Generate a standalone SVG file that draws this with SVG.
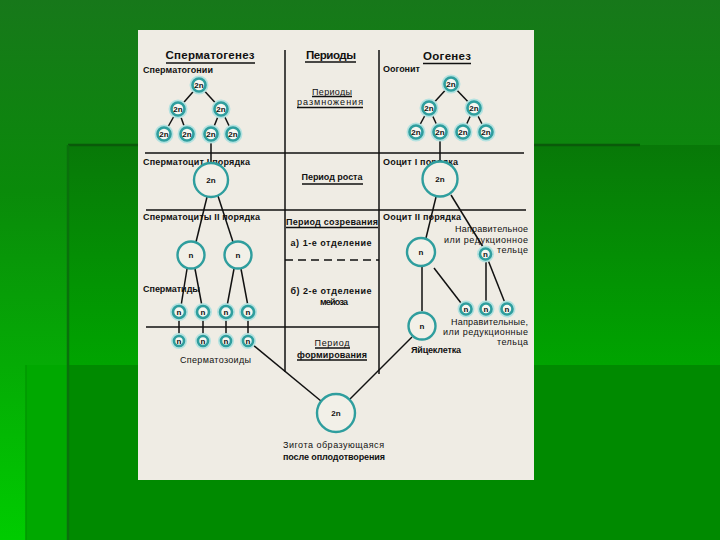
<svg xmlns="http://www.w3.org/2000/svg" width="720" height="540" viewBox="0 0 720 540">
<defs>
<linearGradient id="bg" x1="0" y1="0" x2="0" y2="1">
<stop offset="0" stop-color="#17781a"/>
<stop offset="0.35" stop-color="#0a8a0a"/>
<stop offset="1" stop-color="#00cc00"/>
</linearGradient>
<linearGradient id="bgB" x1="0" y1="0" x2="0" y2="1">
<stop offset="0" stop-color="#087808"/>
<stop offset="1" stop-color="#00a400"/>
</linearGradient>
<style>
.t{font-family:"Liberation Sans",Arial,sans-serif;font-size:9px;fill:#111;font-weight:bold}
.n{font-weight:normal}
.h{font-size:11.5px}
.c{text-anchor:middle}
.r{text-anchor:end}
.ci{font-family:"Liberation Sans",Arial,sans-serif;font-size:8px;font-weight:bold;fill:#111;text-anchor:middle}
.cell{fill:#f6f6f0;stroke:#2f9e9e;stroke-width:2.6}
.halo{fill:none;stroke:#b4e2e0;stroke-width:5}
.big{fill:#f2f0e8;stroke:#2f9e9e;stroke-width:2.4}
.ln{stroke:#111;stroke-width:1.5;fill:none}
.ul{stroke:#111;stroke-width:1.3}
</style>
</defs>
<g id="background">
<rect width="720" height="540" fill="url(#bg)"/>
<rect x="68" y="145" width="652" height="220" fill="url(#bgB)"/>
<rect x="26" y="365" width="42" height="175" fill="#00a800"/>
<rect x="68" y="365" width="652" height="175" fill="#008a00"/>
<line x1="68" y1="145" x2="640" y2="145" stroke="#0a5a0a" stroke-width="2.5"/>
<line x1="68" y1="145" x2="68" y2="540" stroke="#0a700c" stroke-width="2.5"/>
<line x1="26" y1="365" x2="26" y2="540" stroke="#009800" stroke-width="1.5"/>
</g>
<rect id="panel" x="138" y="30" width="396" height="450" fill="#efece4"/>
<g id="connectors">
<line class="ln" x1="285" y1="50" x2="285" y2="372"/>
<line class="ln" x1="379" y1="50" x2="379" y2="374"/>
<line class="ln" x1="145" y1="153" x2="524" y2="153"/>
<line class="ln" x1="146" y1="210" x2="526" y2="210"/>
<line class="ln" x1="146" y1="327" x2="379" y2="327"/>
<line class="ln" x1="285" y1="260" x2="379" y2="260" stroke-dasharray="8,5" stroke-width="2"/>
<line class="ln" x1="199" y1="85" x2="178" y2="109"/>
<line class="ln" x1="199" y1="85" x2="221" y2="109"/>
<line class="ln" x1="178" y1="109" x2="164" y2="134"/>
<line class="ln" x1="178" y1="109" x2="187" y2="134"/>
<line class="ln" x1="221" y1="109" x2="211" y2="134"/>
<line class="ln" x1="221" y1="109" x2="233" y2="134"/>
<line class="ln" x1="211" y1="134" x2="211" y2="163"/>
<line class="ln" x1="451" y1="84" x2="429" y2="108"/>
<line class="ln" x1="451" y1="84" x2="474" y2="108"/>
<line class="ln" x1="429" y1="108" x2="416" y2="132"/>
<line class="ln" x1="429" y1="108" x2="440" y2="132"/>
<line class="ln" x1="474" y1="108" x2="463" y2="132"/>
<line class="ln" x1="474" y1="108" x2="486" y2="132"/>
<line class="ln" x1="440" y1="132" x2="440" y2="162"/>
<line class="ln" x1="207" y1="197" x2="196" y2="242"/>
<line class="ln" x1="218" y1="196" x2="233" y2="242"/>
<line class="ln" x1="187" y1="269" x2="181" y2="306"/>
<line class="ln" x1="195" y1="269" x2="202" y2="306"/>
<line class="ln" x1="234" y1="269" x2="227" y2="306"/>
<line class="ln" x1="241" y1="269" x2="248" y2="306"/>
<line class="ln" x1="179" y1="312" x2="179" y2="341"/>
<line class="ln" x1="203" y1="312" x2="203" y2="341"/>
<line class="ln" x1="226" y1="312" x2="226" y2="341"/>
<line class="ln" x1="248" y1="312" x2="248" y2="341"/>
<line class="ln" x1="253" y1="345" x2="321" y2="401"/>
<line class="ln" x1="349" y1="400" x2="412" y2="337"/>
<line class="ln" x1="436" y1="197" x2="426" y2="238"/>
<line class="ln" x1="451" y1="195" x2="483" y2="247"/>
<line class="ln" x1="422" y1="266" x2="422" y2="311"/>
<line class="ln" x1="434" y1="268" x2="461" y2="303"/>
<line class="ln" x1="486" y1="260" x2="486" y2="303"/>
<line class="ln" x1="488" y1="260" x2="505" y2="303"/>
</g>
<g id="headers">
<text class="t h c" x="210" y="59" textLength="89" lengthAdjust="spacing">Сперматогенез</text>
<line class="ul" x1="166" y1="63" x2="255" y2="63"/>
<text class="t h c" x="331" y="59" textLength="50" lengthAdjust="spacing">Периоды</text>
<line class="ul" x1="305" y1="62" x2="356" y2="62"/>
<text class="t h c" x="447" y="60" textLength="48" lengthAdjust="spacing">Оогенез</text>
<line class="ul" x1="423" y1="63.5" x2="471" y2="63.5"/>
</g>
<g id="periods">
<text class="t n c" x="332" y="95" textLength="40" lengthAdjust="spacing">Периоды</text>
<line class="ul" x1="312" y1="96.5" x2="352" y2="96.5"/>
<text class="t n c" x="330" y="104.5" textLength="66" lengthAdjust="spacing">размножения</text>
<line class="ul" x1="297" y1="107.5" x2="363" y2="107.5"/>
<text class="t c" x="332" y="180" textLength="61" lengthAdjust="spacing">Период роста</text>
<line class="ul" x1="302" y1="184" x2="363" y2="184"/>
<text class="t c" x="332" y="225" textLength="92" lengthAdjust="spacing">Период созревания</text>
<line class="ul" x1="286" y1="227.5" x2="378" y2="227.5"/>
<text class="t c" x="331" y="246" textLength="81" lengthAdjust="spacing">а) 1-е отделение</text>
<text class="t c" x="331" y="294" textLength="81" lengthAdjust="spacing">б) 2-е отделение</text>
<text class="t c" x="334" y="305" textLength="28" lengthAdjust="spacing">мейоза</text>
<text class="t n c" x="332" y="345.5" textLength="35" lengthAdjust="spacing">Период</text>
<line class="ul" x1="315" y1="348" x2="350" y2="348"/>
<text class="t c" x="332" y="358" textLength="70" lengthAdjust="spacing">формирования</text>
<line class="ul" x1="297" y1="360" x2="367" y2="360"/>
</g>
<g id="labels">
<text class="t" x="143" y="73" textLength="70" lengthAdjust="spacing">Сперматогонии</text>
<text class="t" x="383" y="72" textLength="37" lengthAdjust="spacing">Оогонит</text>
<text class="t" x="143" y="165" textLength="107" lengthAdjust="spacing">Сперматоцит I порядка</text>
<text class="t" x="383" y="165" textLength="75" lengthAdjust="spacing">Ооцит I порядка</text>
<text class="t" x="143" y="220" textLength="117" lengthAdjust="spacing">Сперматоциты II порядка</text>
<text class="t" x="383" y="220" textLength="78" lengthAdjust="spacing">Ооцит II порядка</text>
<text class="t n r" x="528" y="232" textLength="73" lengthAdjust="spacing">Направительное</text>
<text class="t n r" x="528" y="242.5" textLength="84" lengthAdjust="spacing">или редукционное</text>
<text class="t n r" x="528" y="252.5" textLength="31" lengthAdjust="spacing">тельце</text>
<text class="t" x="143" y="292" textLength="57" lengthAdjust="spacing">Сперматиды</text>
<text class="t n r" x="528" y="324.5" textLength="77" lengthAdjust="spacing">Направительные,</text>
<text class="t n r" x="528" y="335" textLength="85" lengthAdjust="spacing">или редукционные</text>
<text class="t n r" x="528" y="345" textLength="31" lengthAdjust="spacing">тельца</text>
<text class="t n" x="180" y="363" textLength="71" lengthAdjust="spacing">Сперматозоиды</text>
<text class="t" x="411" y="353" textLength="50" lengthAdjust="spacing">Яйцеклетка</text>
<text class="t n" x="283" y="448" textLength="101" lengthAdjust="spacing">Зигота образующаяся</text>
<text class="t" x="283" y="460" textLength="102" lengthAdjust="spacing">после оплодотворения</text>
</g>
<g id="spermatogonium-1"><circle class="halo" cx="199" cy="85" r="7"/><circle class="cell" cx="199" cy="85" r="6.5"/><text class="ci" x="199" y="88">2n</text></g>
<g id="spermatogonium-2"><circle class="halo" cx="178" cy="109" r="7"/><circle class="cell" cx="178" cy="109" r="6.5"/><text class="ci" x="178" y="112">2n</text></g>
<g id="spermatogonium-3"><circle class="halo" cx="221" cy="109" r="7"/><circle class="cell" cx="221" cy="109" r="6.5"/><text class="ci" x="221" y="112">2n</text></g>
<g id="spermatogonium-4"><circle class="halo" cx="164" cy="134" r="7"/><circle class="cell" cx="164" cy="134" r="6.5"/><text class="ci" x="164" y="137">2n</text></g>
<g id="spermatogonium-5"><circle class="halo" cx="187" cy="134" r="7"/><circle class="cell" cx="187" cy="134" r="6.5"/><text class="ci" x="187" y="137">2n</text></g>
<g id="spermatogonium-6"><circle class="halo" cx="211" cy="134" r="7"/><circle class="cell" cx="211" cy="134" r="6.5"/><text class="ci" x="211" y="137">2n</text></g>
<g id="spermatogonium-7"><circle class="halo" cx="233" cy="134" r="7"/><circle class="cell" cx="233" cy="134" r="6.5"/><text class="ci" x="233" y="137">2n</text></g>
<g id="oogonium-1"><circle class="halo" cx="451" cy="84" r="7"/><circle class="cell" cx="451" cy="84" r="6.5"/><text class="ci" x="451" y="87">2n</text></g>
<g id="oogonium-2"><circle class="halo" cx="429" cy="108" r="7"/><circle class="cell" cx="429" cy="108" r="6.5"/><text class="ci" x="429" y="111">2n</text></g>
<g id="oogonium-3"><circle class="halo" cx="474" cy="108" r="7"/><circle class="cell" cx="474" cy="108" r="6.5"/><text class="ci" x="474" y="111">2n</text></g>
<g id="oogonium-4"><circle class="halo" cx="416" cy="132" r="7"/><circle class="cell" cx="416" cy="132" r="6.5"/><text class="ci" x="416" y="135">2n</text></g>
<g id="oogonium-5"><circle class="halo" cx="440" cy="132" r="7"/><circle class="cell" cx="440" cy="132" r="6.5"/><text class="ci" x="440" y="135">2n</text></g>
<g id="oogonium-6"><circle class="halo" cx="463" cy="132" r="7"/><circle class="cell" cx="463" cy="132" r="6.5"/><text class="ci" x="463" y="135">2n</text></g>
<g id="oogonium-7"><circle class="halo" cx="486" cy="132" r="7"/><circle class="cell" cx="486" cy="132" r="6.5"/><text class="ci" x="486" y="135">2n</text></g>
<g id="spermatocyte-1"><circle class="big" cx="211" cy="180" r="17"/><text class="ci" x="211" y="183">2n</text></g>
<g id="oocyte-1"><circle class="big" cx="440" cy="179" r="17.5"/><text class="ci" x="440" y="182">2n</text></g>
<g id="spermatocyte-2a"><circle class="big" cx="191" cy="255" r="13.5"/><text class="ci" x="191" y="258">n</text></g>
<g id="spermatocyte-2b"><circle class="big" cx="238" cy="255" r="13.5"/><text class="ci" x="238" y="258">n</text></g>
<g id="oocyte-2"><circle class="big" cx="421" cy="252" r="14"/><text class="ci" x="421" y="255">n</text></g>
<g id="polar-body-1"><circle class="halo" cx="485.5" cy="254" r="6"/><circle class="cell" cx="485.5" cy="254" r="5.5"/><text class="ci" x="485.5" y="257">n</text></g>
<g id="spermatid-1"><circle class="halo" cx="179" cy="312" r="6.5"/><circle class="cell" cx="179" cy="312" r="6"/><text class="ci" x="179" y="315">n</text></g>
<g id="spermatid-2"><circle class="halo" cx="203" cy="312" r="6.5"/><circle class="cell" cx="203" cy="312" r="6"/><text class="ci" x="203" y="315">n</text></g>
<g id="spermatid-3"><circle class="halo" cx="226" cy="312" r="6.5"/><circle class="cell" cx="226" cy="312" r="6"/><text class="ci" x="226" y="315">n</text></g>
<g id="spermatid-4"><circle class="halo" cx="248" cy="312" r="6.5"/><circle class="cell" cx="248" cy="312" r="6"/><text class="ci" x="248" y="315">n</text></g>
<g id="sperm-1"><circle class="halo" cx="179" cy="341" r="5.5"/><circle class="cell" cx="179" cy="341" r="5"/><text class="ci" x="179" y="344">n</text></g>
<g id="sperm-2"><circle class="halo" cx="203" cy="341" r="5.5"/><circle class="cell" cx="203" cy="341" r="5"/><text class="ci" x="203" y="344">n</text></g>
<g id="sperm-3"><circle class="halo" cx="226" cy="341" r="5.5"/><circle class="cell" cx="226" cy="341" r="5"/><text class="ci" x="226" y="344">n</text></g>
<g id="sperm-4"><circle class="halo" cx="248" cy="341" r="5.5"/><circle class="cell" cx="248" cy="341" r="5"/><text class="ci" x="248" y="344">n</text></g>
<g id="polar-body-2"><circle class="halo" cx="466" cy="309" r="6"/><circle class="cell" cx="466" cy="309" r="5.5"/><text class="ci" x="466" y="312">n</text></g>
<g id="polar-body-3"><circle class="halo" cx="486" cy="309" r="6"/><circle class="cell" cx="486" cy="309" r="5.5"/><text class="ci" x="486" y="312">n</text></g>
<g id="polar-body-4"><circle class="halo" cx="507" cy="309" r="6"/><circle class="cell" cx="507" cy="309" r="5.5"/><text class="ci" x="507" y="312">n</text></g>
<g id="egg"><circle class="big" cx="422" cy="326" r="13.5"/><text class="ci" x="422" y="329">n</text></g>
<g id="zygote"><circle class="big" cx="336" cy="413" r="19"/><text class="ci" x="336" y="416">2n</text></g>
</svg>
